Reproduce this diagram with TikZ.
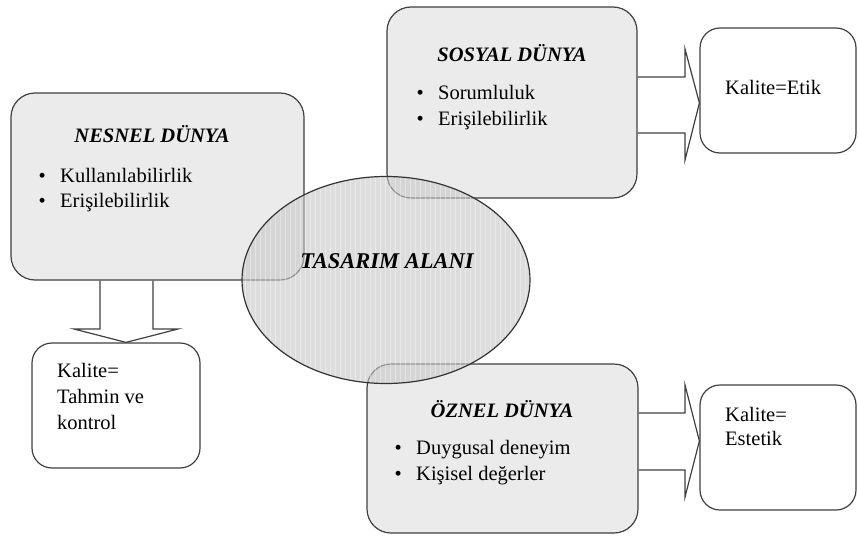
\documentclass[tikz,border=0pt]{standalone}
\usepackage{fontspec}
\setmainfont{Liberation Serif}
\usetikzlibrary{backgrounds}

\begin{document}
\begin{tikzpicture}[x=1pt, y=-1pt,
  dunya/.style={draw=black!75, line width=1.2pt, fill=black!8, rounded corners=24pt, inner sep=0pt},
  kalite/.style={draw=black!75, line width=1.2pt, fill=white, rounded corners=20pt, inner sep=0pt},
  okblok/.style={draw=black!75, line width=1.2pt, fill=white},
  baslik/.style={font=\fontsize{20.5}{25}\selectfont\bfseries\itshape, inner sep=0pt, anchor=base},
  madde/.style={font=\fontsize{20.5}{25}\selectfont, inner sep=0pt, anchor=base west}]
\useasboundingbox (0,0) rectangle (858,535);
% The three worlds and the quality boxes
\node[dunya, minimum width=293pt, minimum height=187pt] (nesnel) at (157.5,186.5) {};
\node[dunya, minimum width=250pt, minimum height=191pt] (sosyal) at (512,102.5) {};
\node[dunya, minimum width=271pt, minimum height=169pt] (oznel) at (502.5,448.5) {};
\node[kalite, minimum width=168pt, minimum height=125pt] (kal1) at (116,405.5) {};
\node[kalite, minimum width=156pt, minimum height=125pt] (etik) at (778,90.5) {};
\node[kalite, minimum width=156pt, minimum height=125pt] (estetik) at (778,447.5) {};
% Block arrows, behind the boxes
\begin{scope}[on background layer]
\draw[okblok] (100,0 |- nesnel.south) -- (100,329) -- (74,329) -- (126,0 |- kal1.north)
  -- (178,329) -- (153,329) -- (153,0 |- nesnel.south);
\draw[okblok] (sosyal.east |- 0,77) -- (685,77) -- (685,49) -- (etik.west |- 0,103)
  -- (685,160) -- (685,133) -- (sosyal.east |- 0,133);
\draw[okblok] (oznel.east |- 0,413) -- (685,413) -- (685,385) -- (estetik.west |- 0,441)
  -- (685,497) -- (685,470) -- (oznel.east |- 0,470);
\end{scope}
% Texts in the boxes
\node[baslik] (nesnelbas) at (152,142) {NESNEL DÜNYA};
\node[madde] (nesnel1) at (38.5,182) {\textbullet\hspace{0.7em}Kullanılabilirlik};
\node[madde] (nesnel2) at (38.5,207) {\textbullet\hspace{0.7em}Erişilebilirlik};
\node[baslik] (sosyalbas) at (512,61) {SOSYAL DÜNYA};
\node[madde] (sosyal1) at (416.5,99) {\textbullet\hspace{0.7em}Sorumluluk};
\node[madde] (sosyal2) at (416.5,125) {\textbullet\hspace{0.7em}Erişilebilirlik};
\node[baslik] (oznelbas) at (502,417) {ÖZNEL DÜNYA};
\node[madde] (oznel1) at (394.5,454) {\textbullet\hspace{0.7em}Duygusal deneyim};
\node[madde] (oznel2) at (394.5,480) {\textbullet\hspace{0.7em}Kişisel değerler};
\node[madde] (kal1a) at (57,377) {Kalite=};
\node[madde] (kal1b) at (57,403) {Tahmin ve};
\node[madde] (kal1c) at (57,429) {kontrol};
\node[madde] (etika) at (725,94) {Kalite=Etik};
\node[madde] (estetika) at (725,421) {Kalite=};
\node[madde] (estetikb) at (725,445) {Estetik};
% Design area, over the boxes
\begin{scope}
\clip (386,280) ellipse [x radius=144, y radius=103.5];
\fill[black!22, fill opacity=0.6] (240,174) rectangle (532,386);
\draw[white, opacity=0.35, line width=0.5pt, step=5] (240,174) grid (532,386);
\end{scope}
\draw[black!80, line width=1.2pt] (386,280) ellipse [x radius=144, y radius=103.5];
\node[baslik, font=\fontsize{22.5}{27}\selectfont\bfseries\itshape] (alan) at (387,268) {TASARIM ALANI};
\end{tikzpicture}
\end{document}
